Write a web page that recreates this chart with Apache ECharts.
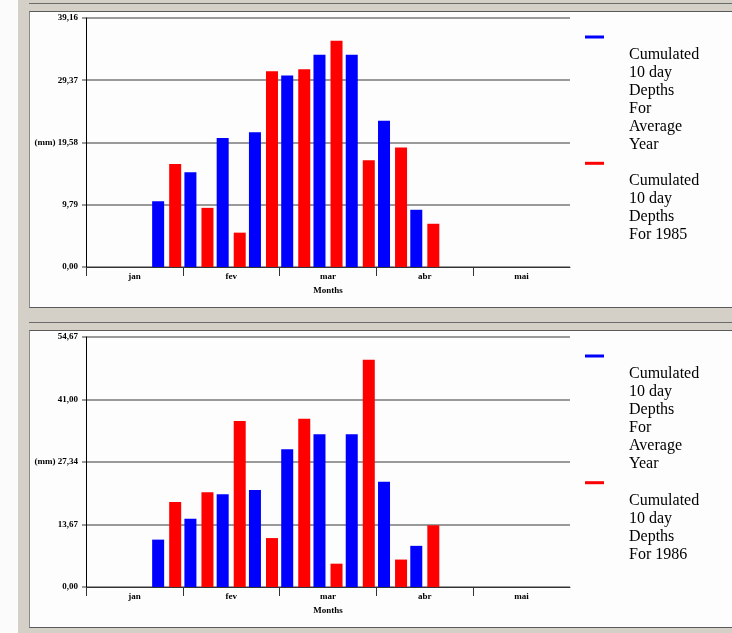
<!DOCTYPE html>
<html>
<head>
<meta charset="utf-8">
<script src="https://cdn.jsdelivr.net/npm/echarts@6/dist/echarts.min.js"></script>
<style>
  html, body { margin: 0; padding: 0; width: 732px; height: 633px; overflow: hidden; background: #d4d0c8; }
  .strip { position: absolute; left: 0; top: 0; width: 18px; height: 633px; background: #fbfbfb; }
  .rule { position: absolute; left: 29px; right: 0; height: 1px; background: #6b6b6b; }
  .panel { position: absolute; left: 29px; right: -4px; background: #fdfdfd;
           border-left: 1px solid #8a8a8a; border-top: 1px solid #5a5a5a; border-bottom: 1px solid #5a5a5a; }
  #chart { position: absolute; left: 0; top: 0; width: 732px; height: 633px; }
</style>
</head>
<body>
<div class="strip"></div>
<div class="rule" style="top:3px"></div>
<div class="panel" style="top:11px;height:295px"></div>
<div class="rule" style="top:322px"></div>
<div class="panel" style="top:330px;height:296px"></div>
<div id="chart"></div>
<script>
// Ten-day periods (three per month) and the month labels of the x axis
const decades = ['jan 1', 'jan 2', 'jan 3', 'fev 1', 'fev 2', 'fev 3', 'mar 1', 'mar 2', 'mar 3',
                 'abr 1', 'abr 2', 'abr 3', 'mai 1', 'mai 2', 'mai 3'];
const months = ['jan', 'fev', 'mar', 'abr', 'mai'];

// Cumulated 10 day depths (mm)
const avgYear  = [null, null, 10.36, 14.9, 20.3, 21.2, 30.1, 33.4, 33.4, 23.0, 9.0, null, null, null, null];
const year1985 = [null, null, 16.2, 9.3, 5.4, 30.8, 31.1, 35.6, 16.8, 18.8, 6.8, null, null, null, null];
const year1986 = [null, null, 18.6, 20.7, 36.3, 10.7, 36.8, 5.1, 49.7, 6.0, 13.5, null, null, null, null];

// Y axis scales and their printed tick labels
const yMax1985 = 39.16, yStep1985 = 9.79;
const yMax1986 = 54.67, yStep1986 = 13.6675;
const ticks1985 = ['0,00', '9,79', '19,58', '29,37', '39,16'];
const ticks1986 = ['0,00', '13,67', '27,34', '41,00', '54,67'];
const unit = '(mm)';
const xName = 'Months';

const nameAvg = 'Cumulated\n10 day\nDepths\nFor\nAverage\nYear';
const name1985 = 'Cumulated\n10 day\nDepths\nFor 1985';
const name1986 = 'Cumulated\n10 day\nDepths\nFor 1986';

const BLUE = '#0000ff', RED = '#ff0000';
const smallFont = { fontFamily: 'Liberation Serif', fontWeight: 'bold', fontSize: 9, color: '#000' };

function decadeAxis(gridIndex) {
  return { type: 'category', gridIndex, data: decades, boundaryGap: true, show: false };
}

function monthAxis(gridIndex) {
  return {
    type: 'value', gridIndex, min: 0, max: months.length, interval: 1, position: 'bottom',
    axisLine: { show: true, onZero: false, lineStyle: { color: '#333', width: 1 } },
    axisTick: { show: true, length: 9, customValues: months.map((m, i) => i),
                lineStyle: { color: '#333', width: 1 } },
    axisLabel: Object.assign({ margin: 5, customValues: months.map((m, i) => i + 0.5),
                formatter: v => months[Math.floor(v)] }, smallFont),
    splitLine: { show: false },
    name: xName, nameLocation: 'middle', nameGap: 19, nameTextStyle: smallFont
  };
}

function yAxis(gridIndex, max, step, labels) {
  return {
    type: 'value', gridIndex, min: 0, max, interval: step,
    axisLine: { show: true, lineStyle: { color: '#000', width: 1 } },
    axisTick: { show: true, length: 4, lineStyle: { color: '#9a9a9a', width: 2 } },
    splitLine: { show: true, lineStyle: { color: '#9a9a9a', width: 2 } },
    axisLabel: Object.assign({ margin: 8, formatter: v => {
      const i = Math.round(v / step);
      return i === 2 ? unit + ' ' + labels[i] : labels[i];
    } }, smallFont)
  };
}

function bars(name, data, color, xi, yi) {
  return { type: 'bar', name, data, xAxisIndex: xi, yAxisIndex: yi,
           barWidth: 12, barGap: '42%', itemStyle: { color } };
}

function legendItem(color, text, markY, textY) {
  return [
    { type: 'rect', shape: { x: 585, y: markY, width: 19, height: 3 }, style: { fill: color } },
    { type: 'text', x: 629, y: textY,
      style: { text, fill: '#000', font: '16px "Liberation Serif"', lineHeight: 18, verticalAlign: 'top' } }
  ];
}

const chart = echarts.init(document.getElementById('chart'), null, { renderer: 'canvas' });
chart.setOption({
  animation: false,
  grid: [
    { left: 86, top: 18, width: 484, height: 249 },
    { left: 86, top: 337, width: 484, height: 250 }
  ],
  xAxis: [decadeAxis(0), monthAxis(0), decadeAxis(1), monthAxis(1)],
  yAxis: [yAxis(0, yMax1985, yStep1985, ticks1985), yAxis(1, yMax1986, yStep1986, ticks1986)],
  series: [
    bars(nameAvg, avgYear, BLUE, 0, 0),
    bars(name1985, year1985, RED, 0, 0),
    bars(nameAvg, avgYear, BLUE, 2, 1),
    bars(name1986, year1986, RED, 2, 1)
  ],
  graphic: [].concat(
    legendItem(BLUE, nameAvg, 35.5, 45.6),
    legendItem(RED, name1985, 161.8, 171.5),
    legendItem(BLUE, nameAvg, 354.5, 364.6),
    legendItem(RED, name1986, 481.2, 491.3)
  )
});
</script>
</body>
</html>
